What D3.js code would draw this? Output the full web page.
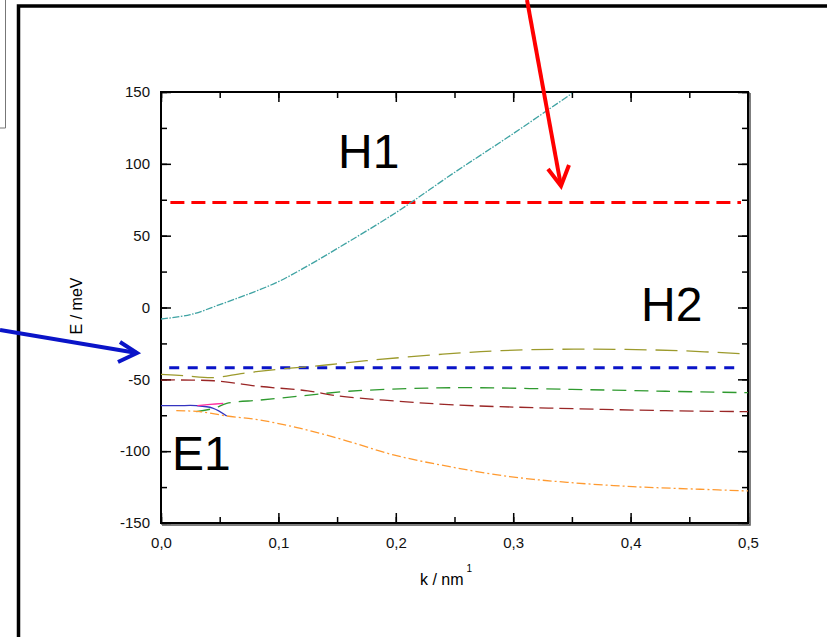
<!DOCTYPE html>
<html>
<head>
<meta charset="utf-8">
<script src="https://cdn.jsdelivr.net/npm/d3@7"></script>
<style>
  body { margin: 0; background: #fff; }
  svg { display: block; font-family: "Liberation Sans", Arial, sans-serif; }
  .band { fill: none; stroke-width: 1.3; }
</style>
</head>
<body>
<svg id="chart" width="827" height="637"></svg>
<script>
// ── Data ────────────────────────────────────────────────────────────
var X_TICKS = [0, 0.1, 0.2, 0.3, 0.4, 0.5];
var Y_TICKS = [-150, -100, -50, 0, 50, 100, 150];

var tealK   = [0, 0.025, 0.05, 0.075, 0.1, 0.125, 0.15, 0.2, 0.25, 0.3, 0.35];
var tealE   = [-8, -5, 2, 9.5, 18, 29, 41, 66, 94, 121, 149];

var oliveK  = [0, 0.02, 0.045, 0.07, 0.1, 0.135, 0.175, 0.24, 0.29, 0.36, 0.44, 0.5];
var oliveE  = [-46.5, -47.5, -48.8, -45.8, -43, -40.5, -37, -32.5, -30, -29, -30, -32.5];

var maroonK = [0, 0.045, 0.085, 0.125, 0.15, 0.19, 0.25, 0.33, 0.43, 0.5];
var maroonE = [-50.5, -51, -55, -58, -61.5, -64.5, -67.8, -70, -71.8, -72.5];

var greenK  = [0.03, 0.046, 0.056, 0.085, 0.12, 0.16, 0.21, 0.26, 0.35, 0.43, 0.5];
var greenE  = [-72.5, -70, -66.7, -64.4, -61.5, -58.3, -56.5, -55.8, -57, -58.3, -59.3];

var blueK   = [0, 0.015, 0.03, 0.044, 0.056];
var blueE   = [-68.3, -68.3, -68.3, -70, -75.5];

var pinkK   = [0.031, 0.042, 0.053];
var pinkE   = [-68.3, -67.5, -66.7];

var orangeK = [0.013, 0.033, 0.056, 0.084, 0.118, 0.155, 0.198, 0.246, 0.297, 0.346, 0.402, 0.459, 0.5];
var orangeE = [-71.8, -72.5, -75.5, -78.3, -84, -92, -102.6, -110.8, -117.7, -121.7, -124.7, -126.5, -127.7];

var H1_LEVEL = 73;
var H2_LEVEL = -42;

var BANDS = [
  { k: tealK,   e: tealE,   color: "#3fa3a3", dash: "7,1.5,1.5,1.5" },
  { k: oliveK,  e: oliveE,  color: "#9c9a2c", dash: "22,9" },
  { k: maroonK, e: maroonE, color: "#9a2626", dash: "14,6" },
  { k: greenK,  e: greenE,  color: "#2f9a2f", dash: "14,8" },
  { k: blueK,   e: blueE,   color: "#3434c0", dash: null },
  { k: pinkK,   e: pinkE,   color: "#ff2fa0", dash: null },
  { k: orangeK, e: orangeE, color: "#ff9a30", dash: "9,3,2,3" }
];

// ── Layout ─────────────────────────────────────────────────────────
var LEFT = 161, RIGHT = 748, TOP = 92, BOTTOM = 523;

var svg = d3.select("#chart");

var x = d3.scaleLinear().domain([0, 0.5]).range([LEFT, RIGHT]);
var y = d3.scaleLinear().domain([-150, 150]).range([BOTTOM, TOP]);

// ── Outer frame and the little box at top-left ─────────────────────
svg.append("path")
  .attr("d", "M0,128H5.5V0")
  .attr("fill", "none").attr("stroke", "#777").attr("stroke-width", 1);

svg.append("path")
  .attr("d", "M18.5,637V6H827")
  .attr("fill", "none").attr("stroke", "#000").attr("stroke-width", 3.5);

// ── Axes: inward ticks on all four sides ───────────────────────────
var comma = function (d) { return d3.format(".1f")(d).replace(".", ","); };
var plain = function (d) { return String(d); };   // keep ASCII hyphen for negatives
var minorX = d3.range(0, 0.5001, 0.05);
var minorY = d3.range(-150, 150.1, 25);

function axisGroup(axis, tx, ty) {
  var g = svg.append("g")
    .attr("transform", "translate(" + tx + "," + ty + ")")
    .call(axis);
  g.select(".domain").remove();
  g.selectAll(".tick line").attr("stroke", "#000").attr("stroke-width", 1.5);
  return g;
}

// minor ticks
axisGroup(d3.axisBottom(x).tickValues(minorX).tickSize(-6).tickFormat(""), 0, BOTTOM);
axisGroup(d3.axisTop(x).tickValues(minorX).tickSize(-6).tickFormat(""), 0, TOP);
axisGroup(d3.axisLeft(y).tickValues(minorY).tickSize(-6).tickFormat(""), LEFT, 0);
axisGroup(d3.axisRight(y).tickValues(minorY).tickSize(-6).tickFormat(""), RIGHT, 0);

// major ticks + labels
axisGroup(d3.axisBottom(x).tickValues(X_TICKS).tickSize(-10).tickPadding(14).tickFormat(comma), 0, BOTTOM);
axisGroup(d3.axisTop(x).tickValues(X_TICKS).tickSize(-10).tickFormat(""), 0, TOP);
axisGroup(d3.axisLeft(y).tickValues(Y_TICKS).tickSize(-10).tickPadding(11).tickFormat(plain), LEFT, 0);
axisGroup(d3.axisRight(y).tickValues(Y_TICKS).tickSize(-10).tickFormat(""), RIGHT, 0);

svg.selectAll(".tick text")
  .attr("font-family", "'Liberation Sans', Arial, sans-serif")
  .attr("font-size", 15)
  .attr("fill", "#111");

// plot box
svg.append("rect")
  .attr("x", LEFT).attr("y", TOP)
  .attr("width", RIGHT - LEFT).attr("height", BOTTOM - TOP)
  .attr("fill", "none").attr("stroke", "#000").attr("stroke-width", 2);
svg.append("path")
  .attr("d", "M" + (RIGHT + 1) + "," + TOP + "V" + (BOTTOM + 1) + "H" + LEFT)
  .attr("fill", "none").attr("stroke", "#555").attr("stroke-width", 1.5)
  .attr("transform", "translate(1,1)");

// ── Reference levels ───────────────────────────────────────────────
svg.append("line")
  .attr("x1", x(0.008)).attr("x2", x(0.494))
  .attr("y1", y(H1_LEVEL)).attr("y2", y(H1_LEVEL))
  .attr("stroke", "#ff0000").attr("stroke-width", 3)
  .attr("stroke-dasharray", "14,7");

svg.append("line")
  .attr("x1", x(0.007)).attr("x2", x(0.494))
  .attr("y1", y(H2_LEVEL)).attr("y2", y(H2_LEVEL))
  .attr("stroke", "#0a14c8").attr("stroke-width", 3)
  .attr("stroke-dasharray", "10,8.5");

// ── Bands ──────────────────────────────────────────────────────────
var line = d3.line()
  .x(function (d) { return x(d[0]); })
  .y(function (d) { return y(d[1]); })
  .curve(d3.curveCatmullRom.alpha(0.5));

BANDS.forEach(function (b) {
  var pts = b.k.map(function (k, i) { return [k, b.e[i]]; });
  svg.append("path")
    .attr("class", "band")
    .attr("d", line(pts))
    .attr("stroke", b.color)
    .attr("stroke-dasharray", b.dash);
});

// ── Labels ─────────────────────────────────────────────────────────
function bigLabel(txt, px, py) {
  svg.append("text")
    .attr("x", px).attr("y", py)
    .attr("font-size", 48)
    .attr("fill", "#000")
    .text(txt);
}
bigLabel("H1", 338, 168);
bigLabel("H2", 641, 321);
bigLabel("E1", 172, 470);

svg.append("text")
  .attr("transform", "translate(82,306) rotate(-90)")
  .attr("text-anchor", "middle")
  .attr("font-size", 16)
  .text("E / meV");

var xt = svg.append("text")
  .attr("x", 420).attr("y", 585)
  .attr("font-size", 16);
xt.append("tspan").text("k / nm");
xt.append("tspan").attr("dx", 3).attr("dy", -13).attr("font-size", 10).text("1");

// ── Arrows ─────────────────────────────────────────────────────────
function arrow(pts, wings, color) {
  svg.append("path")
    .attr("d", "M" + pts[0] + "L" + pts[1])
    .attr("stroke", color).attr("stroke-width", 4).attr("fill", "none");
  svg.append("path")
    .attr("d", "M" + wings[0] + "L" + pts[1] + "L" + wings[1])
    .attr("stroke", color).attr("stroke-width", 4).attr("fill", "none")
    .attr("stroke-linejoin", "miter");
}
arrow([[527, 0], [561, 186]], [[548, 169], [569, 165]], "#ff0000");
arrow([[0, 330], [137, 353]], [[120, 342], [118, 362]], "#0a14c8");
</script>
</body>
</html>
